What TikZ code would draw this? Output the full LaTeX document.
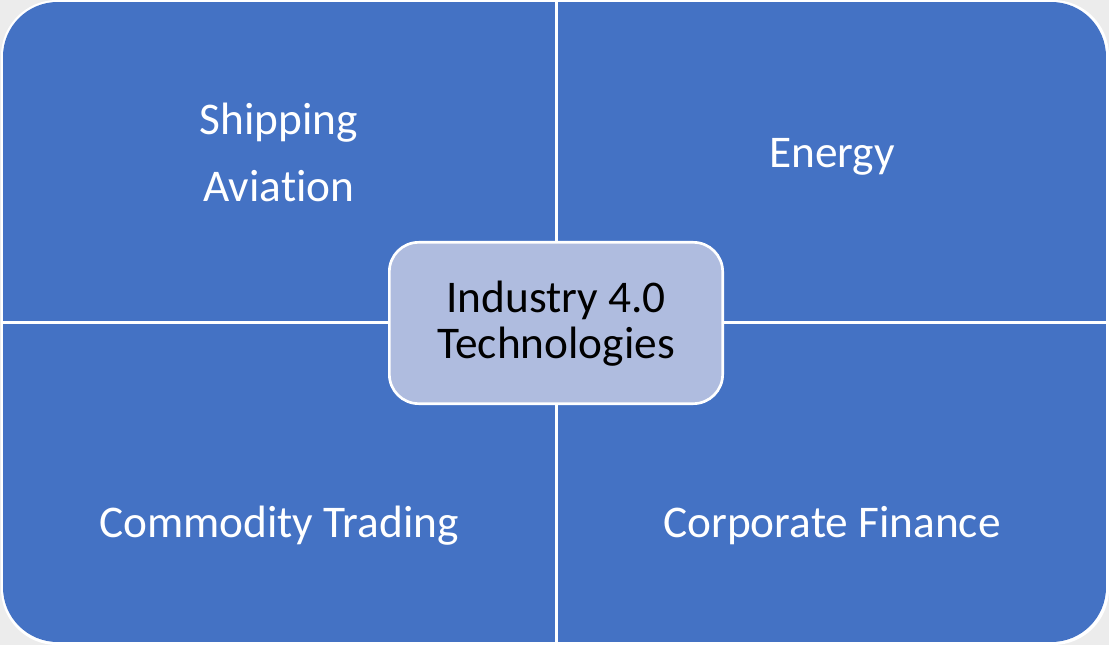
\documentclass[tikz,border=0pt]{standalone}
\usepackage{fontspec}
\setmainfont[Ligatures={NoCommon}]{Carlito}
\definecolor{quadblue}{RGB}{68,114,196}
\definecolor{hubfill}{RGB}{175,188,223}
\definecolor{bggray}{RGB}{236,236,236}
\tikzset{
  quad/.style={fill=quadblue},
  quadtext/.style={text=white, anchor=base, inner sep=0pt, font=\fontsize{34}{40}\selectfont},
  hub/.style={draw=white, line width=2pt, fill=hubfill, rounded corners=22pt, minimum width=250pt, minimum height=121pt, inner sep=0pt},
  hubtext/.style={text=black, anchor=base, inner sep=0pt, font=\fontsize{34}{40}\selectfont}
}
\begin{document}
\begin{tikzpicture}[x=0.75pt, y=-0.75pt]
\useasboundingbox (0,0) rectangle (1109,645);
\fill[bggray] (0,0) rectangle (1109,645);
\fill[white, rounded corners=42pt] (1,0) rectangle (1109,645);
% quadrants
\begin{scope}
\clip[rounded corners=41pt] (3,2) rectangle (1106,642);
\fill[quad] (3,2) rectangle (555,321);
\fill[quad] (558,2) rectangle (1106,321);
\fill[quad] (3,324) rectangle (555,642);
\fill[quad] (558,324) rectangle (1106,642);
\end{scope}
% hub
\node[hub] (hubbox) at (556,323) {};
% texts
\node[quadtext] (shipping) at (279,135) {Shipping};
\node[quadtext] (aviation) at (279,202) {Aviation};
\node[quadtext] (energy) at (832,168) {Energy};
\node[quadtext] (commodity) at (279,537) {Commodity Trading};
\node[quadtext] (corporate) at (832,537) {Corporate Finance};
\node[hubtext] (industry) at (556,312) {Industry 4.0};
\node[hubtext] (technologies) at (556,358) {Technologies};
\end{tikzpicture}
\end{document}
